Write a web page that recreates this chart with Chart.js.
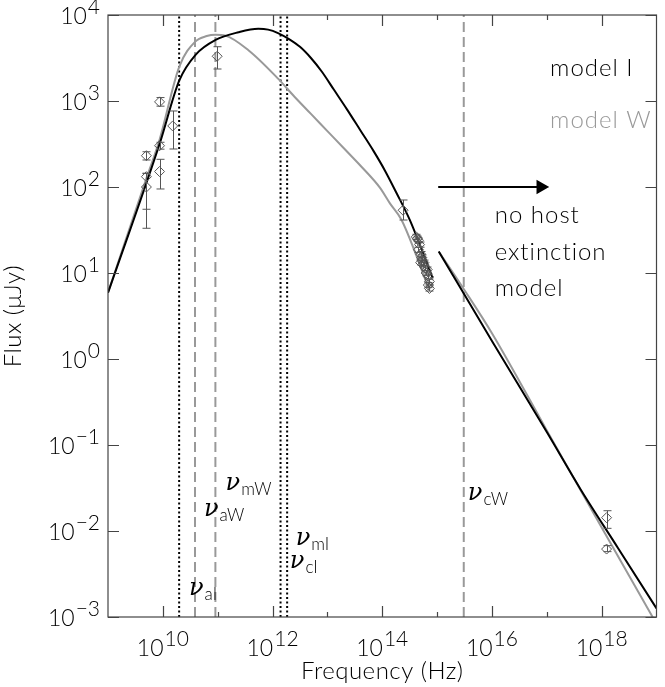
<!DOCTYPE html>
<html>
<head>
<meta charset="utf-8">
<script src="https://cdn.jsdelivr.net/npm/chart.js@4/dist/chart.umd.min.js"></script>
<style>
  html, body { margin: 0; padding: 0; background: #fff; }
</style>
</head>
<body>
<canvas id="sed" width="665" height="687"></canvas>
<script>
// all values are log10: frequency in Hz, flux in microJy

// model I (black), below and above the gap
const modelI_nu  = [9.0, 9.94, 10.30, 10.60, 10.96, 11.38, 11.74, 11.92, 12.10, 12.30, 12.50, 12.70, 12.90, 13.12, 13.36, 13.60, 13.84, 14.05, 14.26, 14.50, 14.92];
const modelI_f   = [0.77, 2.50, 3.24, 3.54, 3.71, 3.80, 3.84, 3.83, 3.79, 3.72, 3.63, 3.50, 3.34, 3.13, 2.90, 2.66, 2.42, 2.19, 1.93, 1.62, 0.94];
const modelI_nu2 = [15.03, 16.0, 17.0, 17.62, 18.3, 19.0];
const modelI_f2  = [1.25, 0.21, -0.85, -1.52, -2.20, -2.90];

// model W (grey)
const modelW_nu  = [9.0, 9.70, 9.94, 10.30, 10.59, 10.80, 10.96, 11.14, 11.56, 12.10, 12.40, 12.70, 13.00, 13.30, 13.60, 13.96, 14.14, 14.35, 14.86];
const modelW_f   = [0.77, 2.10, 2.55, 3.40, 3.69, 3.755, 3.77, 3.76, 3.59, 3.26, 3.05, 2.85, 2.65, 2.45, 2.25, 1.99, 1.81, 1.62, 0.80];
const modelW_nu2 = [15.03, 15.5, 16.0, 17.0, 18.0, 19.0];
const modelW_f2  = [1.25, 0.80, 0.30, -0.83, -1.96, -3.08];

// observations + error bar ends
const obs_nu = [9.70, 9.70, 9.70, 9.94, 9.94, 9.94, 10.18, 10.99, 14.38,
                14.62, 14.66, 14.68, 14.64, 14.66, 14.70, 14.72, 14.74, 14.76, 14.78, 14.80, 14.82, 14.84, 14.86, 14.86, 14.84, 14.72, 14.70,
                18.09, 18.09];
const obs_f  = [2.364, 2.12, 2.00, 2.99, 2.48, 2.18, 2.71, 3.52, 1.73,
                1.42, 1.38, 1.33, 1.40, 1.27, 1.22, 1.15, 1.10, 1.12, 1.06, 1.00, 1.04, 0.96, 0.90, 0.82, 0.86, 1.18, 1.12,
                -1.845, -2.21];
const obs_err = [null, null, null, null, null, null, null, null, null,
                0.03, 0.03, 0.03, 0.03, 0.03, 0.03, 0.03, 0.03, 0.03, 0.03, 0.03, 0.03, 0.03, 0.03, 0.03, 0.03, 0.03, 0.03,
                null, null];
const obs_lo = [2.314, 1.741, 1.52, 2.94, 2.44, 1.977, 2.442, 3.372, 1.616];
const obs_hi = [2.41, 2.159, 2.159, 3.04, 2.52, 2.322, 2.884, 3.631, 1.849];
const xray_lo = [-1.969, -2.24];
const xray_hi = [-1.764, -2.17];

// break frequencies
const breaksDotted = [10.297, 12.146, 12.266];   // nu_aI, nu_mI, nu_cI
const breaksDashed = [10.586, 10.958, 15.486];   // nu_aW, nu_mW, nu_cW

// axis ticks (exponents)
const xTickExp = [10, 11, 12, 13, 14, 15, 16, 17, 18];
const xLabelExp = ['10', '12', '14', '16', '18'];
const yTickExp = [-3, -2, -1, 0, 1, 2, 3, 4];

function pts(nu, f) {
    return nu.map((v, i) => ({ x: Math.pow(10, v), y: Math.pow(10, f[i]) }));
}

// error bar ends for every observation
function errEnds(i) {
    const n = obs_lo.length;
    if (i < n) return [obs_lo[i], obs_hi[i]];
    if (obs_err[i] != null) return [obs_f[i] - obs_err[i], obs_f[i] + obs_err[i]];
    const k = i - (obs_nu.length - xray_lo.length);
    return [xray_lo[k], xray_hi[k]];
}

function vline(e, dash, color, width) {
    return {
        data: [{ x: Math.pow(10, e), y: 1e-3 }, { x: Math.pow(10, e), y: 1e4 }],
        showLine: true, borderColor: color, borderWidth: width, borderDash: dash,
        pointRadius: 0, order: 5
    };
}

const curve = (data, color) => ({
    data: data, showLine: true, borderColor: color, borderWidth: 2,
    pointRadius: 0, cubicInterpolationMode: 'monotone'
});

const datasets = [
    Object.assign(curve(pts(modelI_nu, modelI_f), '#000'), { order: 1 }),
    Object.assign(curve(pts(modelI_nu2, modelI_f2), '#000'), { order: 1 }),
    Object.assign(curve(pts(modelW_nu, modelW_f), '#999'), { order: 2 }),
    Object.assign(curve(pts(modelW_nu2, modelW_f2), '#999'), { order: 2 }),
    {
        data: pts(obs_nu, obs_f), pointStyle: 'rectRot', pointRadius: 5,
        borderColor: '#555', backgroundColor: 'rgba(255,255,255,0)', borderWidth: 1, order: 0
    },
    // arrow: no host extinction model
    {
        data: [{ x: Math.pow(10, 15.02), y: 100 }, { x: Math.pow(10, 16.89), y: 100 }],
        showLine: true, borderColor: '#000', borderWidth: 2,
        pointStyle: 'triangle', rotation: 90, pointRadius: [0, 6.5],
        backgroundColor: '#000', pointBorderColor: '#000', order: 0
    }
];
breaksDotted.forEach(e => datasets.push(vline(e, [2, 2.5], '#000', 2)));
breaksDashed.forEach(e => datasets.push(vline(e, [10, 5], '#999', 2)));

// text placed in data coordinates
const notes = [
    { t: 'model I', nu: 17.06, f: 3.384, c: '#000' },
    { t: 'model W', nu: 17.06, f: 2.78, c: '#999' },
    { t: 'no host', nu: 16.05, f: 1.67, c: '#000' },
    { t: 'extinction', nu: 16.05, f: 1.244, c: '#000' },
    { t: 'model', nu: 16.05, f: 0.826, c: '#000' }
];
const nuLabels = [
    { sub: 'aI', nu: 10.477, f: -2.744 },
    { sub: 'aW', nu: 10.748, f: -1.826 },
    { sub: 'mW', nu: 11.144, f: -1.523 },
    { sub: 'mI', nu: 12.423, f: -2.163 },
    { sub: 'cI', nu: 12.315, f: -2.43 },
    { sub: 'cW', nu: 15.56, f: -1.64 }
];

const FONT = '"Lato", "DejaVu Sans", sans-serif';

function drawPow(ctx, exp, x, y, align) {
    ctx.font = '300 23px ' + FONT;
    const wb = ctx.measureText('10').width;
    ctx.font = '300 21px ' + FONT;
    const ws = ctx.measureText(exp).width;
    const total = wb + 1 + ws;
    let left = align === 'right' ? x - total : x - total / 2;
    ctx.textAlign = 'left';
    ctx.textBaseline = 'alphabetic';
    ctx.font = '300 23px ' + FONT;
    ctx.fillText('10', left, y);
    ctx.font = '300 21px ' + FONT;
    ctx.fillText(exp, left + wb + 1, y - 10);
}

const decorations = {
    id: 'decorations',
    afterDraw(chart) {
        const { ctx, chartArea: a, scales: { x, y } } = chart;
        ctx.save();

        // error bars
        ctx.strokeStyle = '#555';
        ctx.lineWidth = 1;
        obs_nu.forEach((e, i) => {
            const ends = errEnds(i);
            const px = Math.round(x.getPixelForValue(Math.pow(10, e))) + 0.5;
            const p1 = y.getPixelForValue(Math.pow(10, ends[0]));
            const p2 = y.getPixelForValue(Math.pow(10, ends[1]));
            ctx.beginPath();
            ctx.moveTo(px, p1); ctx.lineTo(px, p2);
            ctx.moveTo(px - 4, p1); ctx.lineTo(px + 4, p1);
            ctx.moveTo(px - 4, p2); ctx.lineTo(px + 4, p2);
            ctx.stroke();
        });

        // frame and ticks
        ctx.strokeStyle = '#444';
        ctx.lineWidth = 1.2;
        ctx.strokeRect(a.left, a.top, a.right - a.left, a.bottom - a.top);
        ctx.beginPath();
        xTickExp.forEach(e => {
            const px = Math.round(x.getPixelForValue(Math.pow(10, e))) + 0.5;
            const len = e % 2 === 0 ? 11 : 5;
            ctx.moveTo(px, a.bottom); ctx.lineTo(px, a.bottom - len);
            ctx.moveTo(px, a.top); ctx.lineTo(px, a.top + len);
        });
        yTickExp.forEach(e => {
            const py = Math.round(y.getPixelForValue(Math.pow(10, e))) + 0.5;
            ctx.moveTo(a.left, py); ctx.lineTo(a.left + 11, py);
            ctx.moveTo(a.right, py); ctx.lineTo(a.right - 11, py);
        });
        ctx.stroke();

        // tick labels
        ctx.fillStyle = '#000';
        xLabelExp.forEach(e => {
            drawPow(ctx, e, x.getPixelForValue(Math.pow(10, +e)), 656, 'center');
        });
        yTickExp.forEach(e => {
            const lbl = e < 0 ? '\u2212' + (-e) : String(e);
            drawPow(ctx, lbl, 100, y.getPixelForValue(Math.pow(10, e)) + 9, 'right');
        });

        // axis titles
        ctx.font = '300 24px ' + FONT;
        ctx.letterSpacing = '0.5px';
        ctx.textAlign = 'center';
        ctx.textBaseline = 'middle';
        ctx.fillText('Frequency (Hz)', (a.left + a.right) / 2, 671);
        ctx.save();
        ctx.translate(13, (a.top + a.bottom) / 2);
        ctx.rotate(-Math.PI / 2);
        ctx.fillText('Flux (\u03bcJy)', 0, 0);
        ctx.restore();

        // notes
        ctx.textAlign = 'left';
        ctx.textBaseline = 'middle';
        ctx.font = '300 24px ' + FONT;
        ctx.letterSpacing = '1px';
        notes.forEach(n => {
            ctx.fillStyle = n.c;
            ctx.fillText(n.t, x.getPixelForValue(Math.pow(10, n.nu)), y.getPixelForValue(Math.pow(10, n.f)));
        });
        ctx.letterSpacing = '0px';

        // break frequency labels
        ctx.fillStyle = '#000';
        ctx.textBaseline = 'alphabetic';
        nuLabels.forEach(n => {
            const px = x.getPixelForValue(Math.pow(10, n.nu));
            const py = y.getPixelForValue(Math.pow(10, n.f));
            ctx.font = 'italic 24px "DejaVu Serif", serif';
            ctx.fillText('\u03bd', px, py);
            const w = ctx.measureText('\u03bd').width;
            ctx.font = '300 17px ' + FONT;
            ctx.fillText(n.sub, px + w + 1, py + 5);
        });
        ctx.restore();
    }
};

new Chart(document.getElementById('sed'), {
    type: 'scatter',
    data: { datasets: datasets },
    options: {
        responsive: false,
        devicePixelRatio: 1,
        animation: false,
        layout: { padding: { left: 108, right: 2, top: 15, bottom: 70 } },
        plugins: { legend: { display: false }, tooltip: { enabled: false } },
        scales: {
            x: {
                type: 'logarithmic', min: 1e9, max: 1e19,
                grid: { display: false }, border: { display: false },
                ticks: { display: false },
                afterFit: s => { s.height = 0; }
            },
            y: {
                type: 'logarithmic', min: 1e-3, max: 1e4,
                grid: { display: false }, border: { display: false },
                ticks: { display: false },
                afterFit: s => { s.width = 0; }
            }
        }
    },
    plugins: [decorations]
});
</script>
</body>
</html>
